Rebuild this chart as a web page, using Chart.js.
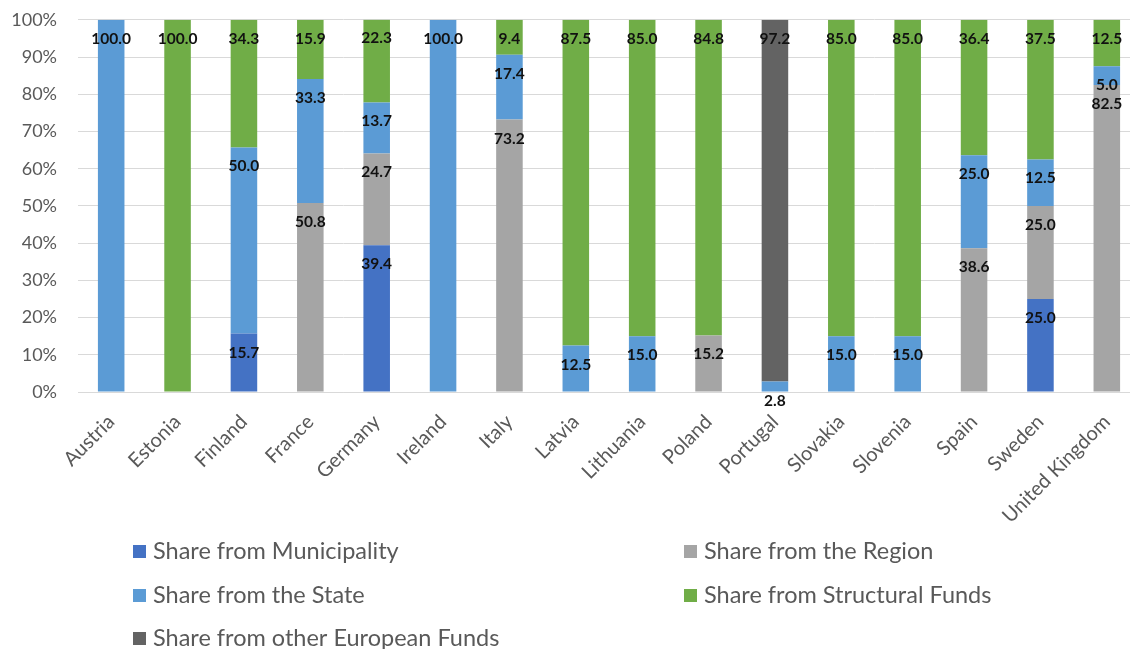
<!DOCTYPE html>
<html>
<head>
<meta charset="utf-8">
<script src="https://cdn.jsdelivr.net/npm/chart.js@4/dist/chart.umd.min.js"></script>
<style>
  html, body { margin: 0; padding: 0; background: #fff; overflow: hidden; width: 1130px; height: 649px; }
  #wrap { position: absolute; left: 0; top: -12px; width: 1145px; height: 661px; }
</style>
</head>
<body>
<div id="wrap"><canvas id="chart"></canvas></div>
<script>
// Funding shares (%) by country and source
const countries = ["Austria", "Estonia", "Finland", "France", "Germany", "Ireland", "Italy", "Latvia",
  "Lithuania", "Poland", "Portugal", "Slovakia", "Slovenia", "Spain", "Sweden", "United Kingdom"];
const municipality = [0, 0, 15.7, 0, 39.4, 0, 0, 0, 0, 0, 0, 0, 0, 0, 25.0, 0];
const region       = [0, 0, 0, 50.8, 24.7, 0, 73.2, 0, 0, 15.2, 0, 0, 0, 38.6, 25.0, 82.5];
const state        = [100.0, 0, 50.0, 33.3, 13.7, 100.0, 17.4, 12.5, 15.0, 0, 2.8, 15.0, 15.0, 25.0, 12.5, 5.0];
const structural   = [0, 100.0, 34.3, 15.9, 22.3, 0, 9.4, 87.5, 85.0, 84.8, 0, 85.0, 85.0, 36.4, 37.5, 12.5];
const otherEU      = [0, 0, 0, 0, 0, 0, 0, 0, 0, 0, 97.2, 0, 0, 0, 0, 0];
const yTicks = [0, 10, 20, 30, 40, 50, 60, 70, 80, 90, 100];

const seriesNames = ["Share from Municipality", "Share from the Region", "Share from the State",
  "Share from Structural Funds", "Share from other European Funds"];
const seriesColors = ["#4472C4", "#A5A5A5", "#5B9BD5", "#70AD47", "#636363"];
const seriesData = [municipality, region, state, structural, otherEU];

const FONT = "Lato, 'Open Sans', 'Liberation Sans', sans-serif";

// Value labels placed just inside the top of every segment
const segmentLabels = {
  id: "segmentLabels",
  afterDatasetsDraw(chart) {
    const ctx = chart.ctx;
    ctx.save();
    ctx.font = "bold 15.5px " + FONT;
    ctx.fillStyle = "#111";
    ctx.textAlign = "center";
    ctx.textBaseline = "middle";
    chart.data.datasets.forEach((ds, i) => {
      const meta = chart.getDatasetMeta(i);
      meta.data.forEach((bar, j) => {
        const v = ds.data[j];
        if (!v) return;
        ctx.fillText(v.toFixed(1), bar.x, bar.y + 19);
      });
    });
    ctx.restore();
  }
};

// Two-column legend below the axis labels
const columnLegend = {
  id: "columnLegend",
  afterDraw(chart) {
    const ctx = chart.ctx;
    const cols = [133, 684];
    const rows = [563, 607, 650];
    ctx.save();
    ctx.font = "23.5px " + FONT;
    ctx.textBaseline = "middle";
    ctx.textAlign = "left";
    chart.data.datasets.forEach((ds, i) => {
      const x = cols[i % 2];
      const y = rows[Math.floor(i / 2)];
      ctx.fillStyle = ds.backgroundColor;
      ctx.fillRect(x, y - 6, 13, 13);
      ctx.fillStyle = "#595959";
      ctx.fillText(ds.label, x + 20, y);
    });
    ctx.restore();
  }
};

new Chart(document.getElementById("chart"), {
  type: "bar",
  data: {
    labels: countries,
    datasets: seriesNames.map((name, i) => ({
      label: name,
      data: seriesData[i],
      backgroundColor: seriesColors[i],
      borderWidth: 0,
      barPercentage: 0.4,
      categoryPercentage: 1.0
    }))
  },
  options: {
    responsive: true,
    maintainAspectRatio: false,
    animation: false,
    layout: { padding: { top: 0, right: 5, left: 0, bottom: 103 } },
    plugins: {
      legend: { display: false },
      tooltip: { enabled: false }
    },
    scales: {
      x: {
        stacked: true,
        grid: { display: false, drawTicks: false },
        border: { display: true, color: "#D9D9D9", width: 1 },
        ticks: {
          color: "#595959",
          font: { family: FONT, size: 20 },
          minRotation: 45,
          maxRotation: 45,
          autoSkip: false,
          padding: 18
        }
      },
      y: {
        stacked: true,
        min: 0,
        max: 100,
        afterBuildTicks(scale) { scale.ticks = yTicks.map(v => ({ value: v })); },
        afterFit(scale) { scale.width = 78; },
        grid: { color: "#D9D9D9", drawTicks: false },
        border: { display: false },
        ticks: {
          color: "#595959",
          font: { family: FONT, size: 18 },
          padding: 21,
          callback: v => v + "%"
        }
      }
    }
  },
  plugins: [segmentLabels, columnLegend]
});
</script>
</body>
</html>
